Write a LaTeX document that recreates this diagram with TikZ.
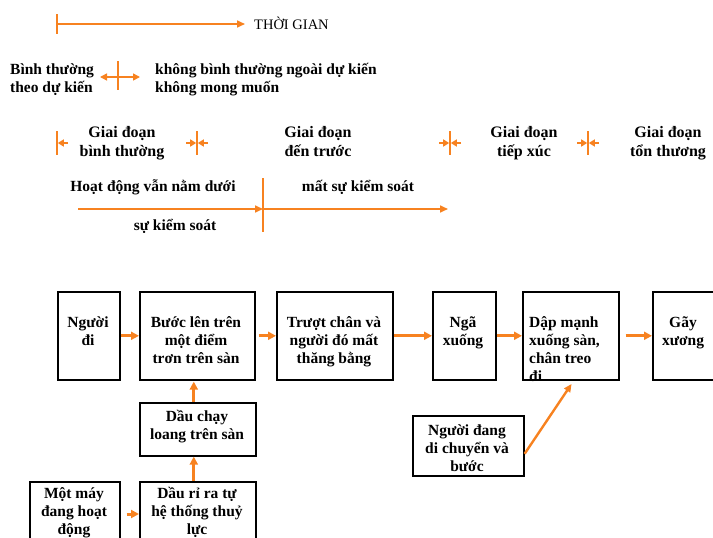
\documentclass[tikz,border=0pt]{standalone}
\usepackage{fontspec}
\setmainfont{Liberation Serif}
\usetikzlibrary{arrows.meta}
\definecolor{tl}{RGB}{247,130,32}
% multi-line text whose reference point is the first baseline
\newcommand{\celltxt}[2][c]{\begin{tabular}[t]{@{}#1@{}}#2\end{tabular}}

\begin{document}
\begin{tikzpicture}[x=1pt,y=-1pt,
  lbl/.style={font=\bfseries\fontsize{15.5}{18}\selectfont, inner sep=0pt, anchor=base},
  stagelbl/.style={font=\bfseries\fontsize{16}{19}\selectfont, inner sep=0pt, anchor=base},
  frame/.style={draw=black, line width=1.6pt, inner sep=0pt, anchor=north west},
  tline/.style={draw=tl, line width=1.6pt},
  tarrow/.style={tline, -{Triangle[length=8pt,width=7pt]}},
  flow/.style={draw=tl, line width=3pt, -{Triangle[length=8pt,width=8pt]}},
  sarrow/.style={tline, -{Triangle[length=6pt,width=7pt]}},
]
\useasboundingbox (0,0) rectangle (713,538);

% ---- time axis ----
\coordinate (t0) at (57,24);
\coordinate (t1) at (245,24);
\draw[tline] (57,14) -- (57,34);
\draw[tarrow] (t0) -- (t1);
\node[inner sep=0pt, anchor=base west, font=\fontsize{14.5}{16}\selectfont] (time) at (254,29) {THỜI GIAN};

% ---- expected / unexpected ----
\node[lbl, anchor=base west] (normal) at (10,74) {\celltxt[l]{Bình thường\\theo dự kiến}};
\coordinate (d0) at (100,77);
\coordinate (d1) at (140,77);
\draw[tline, {Triangle[length=7pt,width=7pt]}-{Triangle[length=7pt,width=7pt]}] (d0) -- (d1);
\draw[tline] (118,61) -- (118,90);
\node[lbl, anchor=base west] (abnormal) at (155,74) {\celltxt[l]{không bình thường ngoài dự kiến\\không mong muốn}};

% ---- stages ----
\node[stagelbl] (s1) at (122,137) {\celltxt{Giai đoạn\\bình thường}};
\node[stagelbl] (s2) at (318,137) {\celltxt{Giai đoạn\\đến trước}};
\node[stagelbl] (s3) at (524,137) {\celltxt{Giai đoạn\\tiếp xúc}};
\node[stagelbl] (s4) at (668,137) {\celltxt{Giai đoạn\\tổn thương}};

% stage boundary markers
\draw[tline] (57,131) -- (57,155);
\draw[sarrow] (68,143) -- (57.8,143);
\foreach \m in {197,450,588}{
  \draw[tline] (\m,131) -- (\m,155);
  \draw[sarrow] (\m-11,143) -- (\m-0.8,143);
  \draw[sarrow] (\m+11,143) -- (\m+0.8,143);
}

% ---- control ----
\node[lbl] (c1) at (153,191) {Hoạt động vẫn nằm dưới};
\node[lbl] (c2) at (358,191) {mất sự kiểm soát};
\node[lbl] (c3) at (175,230) {sự kiểm soát};
\draw[tline] (263,178) -- (263,232);
\coordinate (k0) at (78,209);
\coordinate (k1) at (263,209);
\coordinate (k2) at (448,209);
\draw[tarrow] (k0) -- (k1);
\draw[tarrow] (k1) -- (k2);

% ---- event chain ----
\node[frame, minimum width=62pt, minimum height=88pt] (b1) at (57,291) {};
\node[frame, minimum width=115pt, minimum height=88pt] (b2) at (139,291) {};
\node[frame, minimum width=116pt, minimum height=88pt] (b3) at (276,291) {};
\node[frame, minimum width=63pt, minimum height=88pt] (b4) at (432,291) {};
\node[frame, minimum width=96pt, minimum height=88pt] (b5) at (522,291) {};
\node[frame, minimum width=62pt, minimum height=88pt] (b6) at (652,291) {};
\node[frame, minimum width=116pt, minimum height=53pt] (b7) at (139,402) {};
\node[frame, minimum width=116pt, minimum height=70pt] (b8) at (139,481) {};
\node[frame, minimum width=90pt, minimum height=70pt] (b9) at (29,481) {};
\node[frame, minimum width=111pt, minimum height=60pt] (b10) at (412,415) {};

\node[lbl] (b1t) at (88,327) {\celltxt{Người\\đi}};
\node[lbl] (b2t) at (196,327) {\celltxt{Bước lên trên\\một điểm\\trơn trên sàn}};
\node[lbl] (b3t) at (334,327) {\celltxt{Trượt chân và\\người đó mất\\thăng bằng}};
\node[lbl] (b4t) at (463,327) {\celltxt{Ngã\\xuống}};
\node[lbl, anchor=base west] (b5t) at (529,327) {\celltxt[l]{Dập mạnh\\xuống sàn,\\chân treo\\đi}};
\node[lbl] (b6t) at (683,327) {\celltxt{Gãy\\xương}};
\node[lbl] (b7t) at (197,421) {\celltxt{Dầu chạy\\loang trên sàn}};
\node[lbl] (b8t) at (197,498) {\celltxt{Dầu rỉ ra tự\\hệ thống thuỷ\\lực}};
\node[lbl] (b9t) at (74,498) {\celltxt{Một máy\\đang hoạt\\động}};
\node[lbl] (b10t) at (467,435) {\celltxt{Người đang\\di chuyển và\\bước}};

% connectors
\draw[flow] (b1) -- (b2);
\draw[flow, shorten <=3pt] (b2) -- (b3);
\draw[flow] (b3) -- (b4);
\draw[flow] (b4) -- (b5);
\draw[flow, shorten <=6pt] (b5) -- (b6);
\draw[flow, shorten >=1pt] ([xshift=-4pt]b7.north) -- ([xshift=-4pt]b7.north |- b2.south);
\draw[flow] ([xshift=-4pt]b8.north) -- ([xshift=-4pt]b7.south);
\draw[flow, shorten <=6pt] (b9.east |- 0,514) -- (b8.west |- 0,514);
\draw[draw=tl, line width=2.4pt, -{Triangle[length=8pt,width=7pt]}, shorten >=4pt] ([yshift=-8pt]b10.east) -- ([xshift=3pt]b5.south);
\end{tikzpicture}
\end{document}
